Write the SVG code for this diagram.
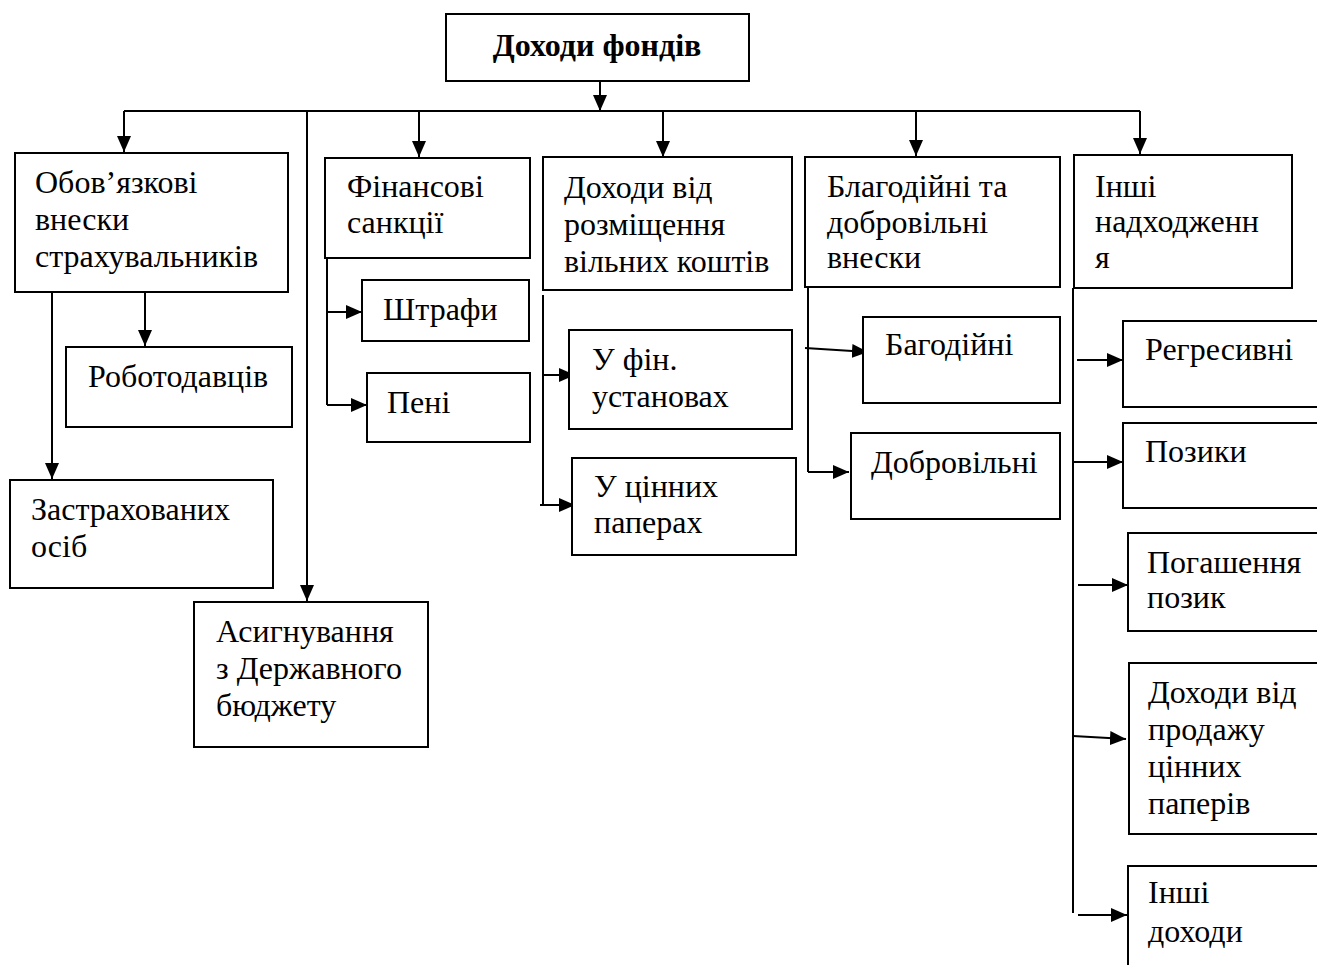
<svg xmlns="http://www.w3.org/2000/svg" width="1317" height="965" viewBox="0 0 1317 965">
<defs>
<marker id="ah" markerWidth="16" markerHeight="14" refX="16" refY="7" orient="auto" markerUnits="userSpaceOnUse">
<path d="M0,0 L16,7 L0,14 Z" fill="#000"/>
</marker>
<style>
.box{fill:#fff;stroke:#000;stroke-width:2}
.t{font-family:"Liberation Serif","Times New Roman",serif;font-size:32px;fill:#000}
.b{font-weight:bold}
.c{fill:none;stroke:#000;stroke-width:2}
.a{fill:none;stroke:#000;stroke-width:2;marker-end:url(#ah)}
</style>
</defs>
<rect width="1317" height="965" fill="#fff"/>
<g id="connectors">
<path class="a" d="M600,81 V111"/>
<path class="c" d="M124,111 H1140"/>
<path class="a" d="M124,111 V152"/>
<path class="a" d="M307,111 V601"/>
<path class="a" d="M419,111 V157"/>
<path class="a" d="M663,111 V157"/>
<path class="a" d="M916,111 V156"/>
<path class="a" d="M1140,111 V154"/>
<path class="a" d="M145,292 V346"/>
<path class="a" d="M52,292 V479"/>
<path class="c" d="M327,258 V405"/>
<path class="a" d="M327,312 H362"/>
<path class="a" d="M327,405 H367"/>
<path class="c" d="M543,295 V505"/>
<path class="a" d="M543,375 H575"/>
<path class="a" d="M540,505 H575"/>
<path class="c" d="M808,287 V472"/>
<path class="a" d="M805,348 L868,352"/>
<path class="a" d="M808,472 H849"/>
<path class="c" d="M1073,288 V913"/>
<path class="a" d="M1077,360 H1123"/>
<path class="a" d="M1072,462 H1123"/>
<path class="a" d="M1078,585 H1128"/>
<path class="a" d="M1073,736 L1126,739"/>
<path class="a" d="M1078,915 H1127"/>
</g>
<g id="n-root"><rect class="box" x="446" y="14" width="303" height="67"/><text class="t b" x="597" y="56" text-anchor="middle">Доходи фондів</text></g>
<g id="n-obov"><rect class="box" x="15" y="153" width="273" height="139"/><text class="t" x="35" y="193">Обов’язкові</text><text class="t" x="35" y="230">внески</text><text class="t" x="35" y="267">страхувальників</text></g>
<g id="n-robot"><rect class="box" x="66" y="347" width="226" height="80"/><text class="t" x="88" y="387">Роботодавців</text></g>
<g id="n-zastr"><rect class="box" x="10" y="480" width="263" height="108"/><text class="t" x="31" y="520">Застрахованих</text><text class="t" x="31" y="557">осіб</text></g>
<g id="n-asyg"><rect class="box" x="194" y="602" width="234" height="145"/><text class="t" x="216" y="642">Асигнування</text><text class="t" x="216" y="679">з Державного</text><text class="t" x="216" y="716">бюджету</text></g>
<g id="n-fin"><rect class="box" x="325" y="158" width="205" height="100"/><text class="t" x="347" y="197">Фінансові</text><text class="t" x="347" y="233">санкції</text></g>
<g id="n-shtraf"><rect class="box" x="362" y="280" width="167" height="61"/><text class="t" x="383" y="320">Штрафи</text></g>
<g id="n-peni"><rect class="box" x="367" y="373" width="163" height="69"/><text class="t" x="387" y="413">Пені</text></g>
<g id="n-dohody"><rect class="box" x="543" y="157" width="249" height="133"/><text class="t" x="564" y="198">Доходи від</text><text class="t" x="564" y="235">розміщення</text><text class="t" x="564" y="272">вільних коштів</text></g>
<g id="n-ufin"><rect class="box" x="569" y="330" width="223" height="99"/><text class="t" x="592" y="370">У фін.</text><text class="t" x="592" y="407">установах</text></g>
<g id="n-ucin"><rect class="box" x="572" y="458" width="224" height="97"/><text class="t" x="594" y="497">У цінних</text><text class="t" x="594" y="533">паперах</text></g>
<g id="n-blag"><rect class="box" x="805" y="157" width="255" height="130"/><text class="t" x="827" y="197">Благодійні та</text><text class="t" x="827" y="233">добровільні</text><text class="t" x="827" y="268">внески</text></g>
<g id="n-bagod"><rect class="box" x="863" y="317" width="197" height="86"/><text class="t" x="885" y="355">Багодійні</text></g>
<g id="n-dobr"><rect class="box" x="851" y="433" width="209" height="86"/><text class="t" x="871" y="473">Добровільні</text></g>
<g id="n-inshi"><rect class="box" x="1074" y="155" width="218" height="133"/><text class="t" x="1095" y="197">Інші</text><text class="t" x="1095" y="232">надходженн</text><text class="t" x="1095" y="268">я</text></g>
<g id="n-regr"><rect class="box" x="1123" y="321" width="220" height="86"/><text class="t" x="1145" y="360">Регресивні</text></g>
<g id="n-pozyky"><rect class="box" x="1123" y="423" width="220" height="85"/><text class="t" x="1145" y="462">Позики</text></g>
<g id="n-pogash"><rect class="box" x="1128" y="533" width="220" height="98"/><text class="t" x="1147" y="573">Погашення</text><text class="t" x="1147" y="608">позик</text></g>
<g id="n-prodazh"><rect class="box" x="1129" y="663" width="220" height="171"/><text class="t" x="1148" y="703">Доходи від</text><text class="t" x="1148" y="740">продажу</text><text class="t" x="1148" y="777">цінних</text><text class="t" x="1148" y="814">паперів</text></g>
<g id="n-inshidoh"><rect class="box" x="1128" y="866" width="220" height="120"/><text class="t" x="1148" y="903">Інші</text><text class="t" x="1148" y="942">доходи</text></g>
</svg>
